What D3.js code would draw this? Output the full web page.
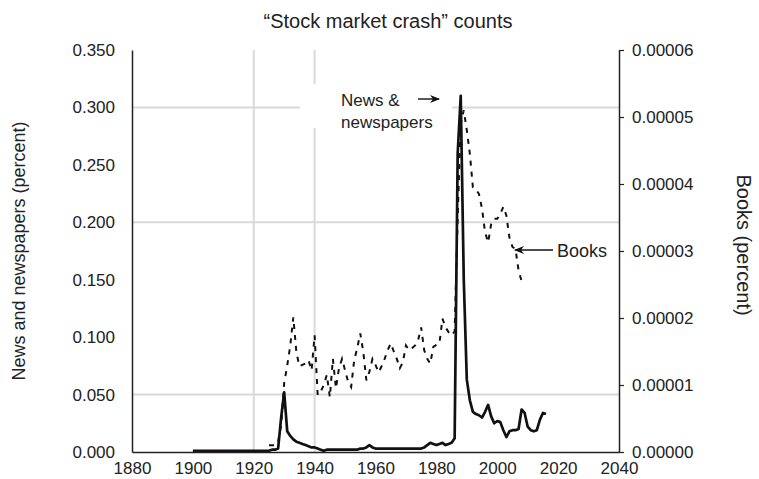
<!DOCTYPE html>
<html><head><meta charset="utf-8">
<script src="https://cdn.jsdelivr.net/npm/d3@7"></script>
<style>
body{margin:0;background:#fff;}
svg text{font-family:"Liberation Sans",Arial,Helvetica,sans-serif;fill:#222;}
</style></head>
<body><svg id="c" width="759" height="479"></svg>
<script>
const title = "\u201cStock market crash\u201d counts";
const leftLabel = "News and newspapers (percent)";
const rightLabel = "Books (percent)";
const xTicks = [1880,1900,1920,1940,1960,1980,2000,2020,2040];
const leftTicks = [0,0.05,0.10,0.15,0.20,0.25,0.30,0.35];
const rightTicks = [0,0.00001,0.00002,0.00003,0.00004,0.00005,0.00006];
const hGrid = [0.05,0.20,0.30];
const vGrid = [1920,1940];

const newsYears = [];
for (let y=1900;y<=2016;y++) newsYears.push(y);
const newsValues = [
 0.001,0.001,0.001,0.001,0.001,0.001,0.001,0.001,0.001,0.001, // 1900-1909
 0.001,0.001,0.001,0.001,0.001,0.001,0.001,0.001,0.001,0.001, // 1910-1919
 0.001,0.001,0.001,0.001,0.001,0.001,0.002,0.002,0.003,0.030, // 1920-1929
 0.052,0.018,0.014,0.011,0.009,0.008,0.007,0.006,0.005,0.004, // 1930-1939
 0.004,0.003,0.002,0.001,0.002,0.002,0.002,0.002,0.002,0.002, // 1940-1949
 0.002,0.002,0.002,0.002,0.002,0.003,0.003,0.004,0.006,0.004, // 1950-1959
 0.003,0.003,0.003,0.003,0.003,0.003,0.003,0.003,0.003,0.003, // 1960-1969
 0.003,0.003,0.003,0.003,0.003,0.003,0.004,0.006,0.008,0.007, // 1970-1979
 0.006,0.007,0.008,0.006,0.007,0.008,0.012,0.260,0.310,0.150, // 1980-1989
 0.063,0.045,0.035,0.033,0.032,0.030,0.035,0.041,0.031,0.025, // 1990-1999
 0.027,0.026,0.019,0.013,0.018,0.019,0.019,0.020,0.037,0.034, // 2000-2009
 0.022,0.019,0.018,0.019,0.028,0.034,0.033                    // 2010-2016
];
const booksYears = [];
for (let y=1925;y<=2008;y++) booksYears.push(y);
const booksValues = [
 0.1,0.1,0.1,0.15,0.4, // 1925-1929
 1.03,1.29,1.59,2.01,1.49,1.28,1.30,1.32,1.37,1.22, // 1930-1939
 1.74,0.85,0.90,1.00,1.15,0.82,1.39,0.95,1.25,1.39, // 1940-1949
 1.22,1.05,0.97,1.37,1.55,1.77,1.49,1.07,1.20,1.39, // 1950-1959
 1.30,1.19,1.28,1.39,1.52,1.62,1.50,1.39,1.25,1.34, // 1960-1969
 1.59,1.52,1.55,1.59,1.67,1.86,1.52,1.39,1.32,1.57, // 1970-1979
 1.60,1.62,1.99,1.86,1.79,1.74,1.80,3.50,4.90,5.10, // 1980-1989
 4.80,4.45,3.95,3.92,3.85,3.63,3.28,3.13,3.40,3.48, // 1990-1999
 3.48,3.55,3.66,3.53,3.20,3.06,3.03,2.71,2.55       // 2000-2008
].map(v=>v*1e-5);

const svg = d3.select("#c");
const x = d3.scaleLinear().domain([1880,2040]).range([132,619]);
const yL = d3.scaleLinear().domain([0,0.35]).range([452,50]);
const yR = d3.scaleLinear().domain([0,0.00006]).range([452,50]);

// grid
svg.append("g").selectAll("line").data(hGrid).join("line")
  .attr("x1",x(1880)).attr("x2",x(2040)).attr("y1",d=>yL(d)).attr("y2",d=>yL(d))
  .attr("stroke","#d9d9d9").attr("stroke-width",2);
svg.append("g").selectAll("line").data(vGrid).join("line")
  .attr("x1",d=>x(d)).attr("x2",d=>x(d)).attr("y1",yL(0.35)).attr("y2",yL(0))
  .attr("stroke","#d9d9d9").attr("stroke-width",2);

// white box behind label
svg.append("rect").attr("x",300).attr("y",84).attr("width",152).attr("height",44).attr("fill","#fff");

// books dashed
const lineB = d3.line().x((d,i)=>x(booksYears[i])).y(d=>yR(d));
svg.append("path").datum(booksValues).attr("d",lineB)
  .attr("fill","none").attr("stroke","#111").attr("stroke-width",2)
  .attr("stroke-dasharray","5,6");

// news solid
const lineN = d3.line().x((d,i)=>x(newsYears[i])).y(d=>yL(d));
svg.append("path").datum(newsValues).attr("d",lineN)
  .attr("fill","none").attr("stroke","#111").attr("stroke-width",2.7)
  .attr("stroke-linejoin","round");

// axes
const gl = svg.append("g").attr("transform",`translate(${x(1880)},0)`)
  .call(d3.axisLeft(yL).tickValues(leftTicks).tickFormat(d3.format(".3f")).tickSize(0).tickPadding(17));
const gr = svg.append("g").attr("transform",`translate(${x(2040)},0)`)
  .call(d3.axisRight(yR).tickValues(rightTicks).tickFormat(d3.format(".5f")).tickSizeInner(5).tickSizeOuter(0).tickPadding(8));
const gb = svg.append("g").attr("transform",`translate(0,${yL(0)})`)
  .call(d3.axisBottom(x).tickValues(xTicks).tickFormat(d3.format("d")).tickSize(0).tickPadding(10));
[gl,gr,gb].forEach(g=>{
  g.selectAll(".domain").attr("stroke","#222").attr("stroke-width",1.5);
  g.selectAll(".tick line").attr("stroke","#222").attr("stroke-width",1.2);
  g.selectAll("text").attr("font-size",17).attr("fill","#222")
   .attr("font-family","'Liberation Sans',Arial,sans-serif");
});

// title & labels
svg.append("text").attr("x",388).attr("y",28).attr("text-anchor","middle")
  .attr("font-size",20).text(title);
svg.append("text").attr("transform","translate(25,251) rotate(-90)").attr("text-anchor","middle")
  .attr("font-size",18).text(leftLabel);
svg.append("text").attr("transform","translate(737,245) rotate(90)").attr("text-anchor","middle")
  .attr("font-size",20).text(rightLabel);

// annotations
const defs = svg.append("defs");
defs.append("marker").attr("id","ah").attr("viewBox","0 0 10 10").attr("refX",9).attr("refY",5)
  .attr("markerWidth",10).attr("markerHeight",10).attr("markerUnits","userSpaceOnUse").attr("orient","auto")
  .append("path").attr("d","M0,1 L10,5 L0,9 L3,5 Z").attr("fill","#111");
svg.append("text").attr("x",341).attr("y",106).attr("font-size",17).text("News &");
svg.append("text").attr("x",341).attr("y",128).attr("font-size",17).text("newspapers");
svg.append("line").attr("x1",418).attr("y1",99).attr("x2",439).attr("y2",99)
  .attr("stroke","#111").attr("stroke-width",1.4).attr("marker-end","url(#ah)");
svg.append("text").attr("x",557).attr("y",257).attr("font-size",18).text("Books");
svg.append("line").attr("x1",553).attr("y1",250).attr("x2",515).attr("y2",250)
  .attr("stroke","#111").attr("stroke-width",1.4).attr("marker-end","url(#ah)");
</script></body></html>
